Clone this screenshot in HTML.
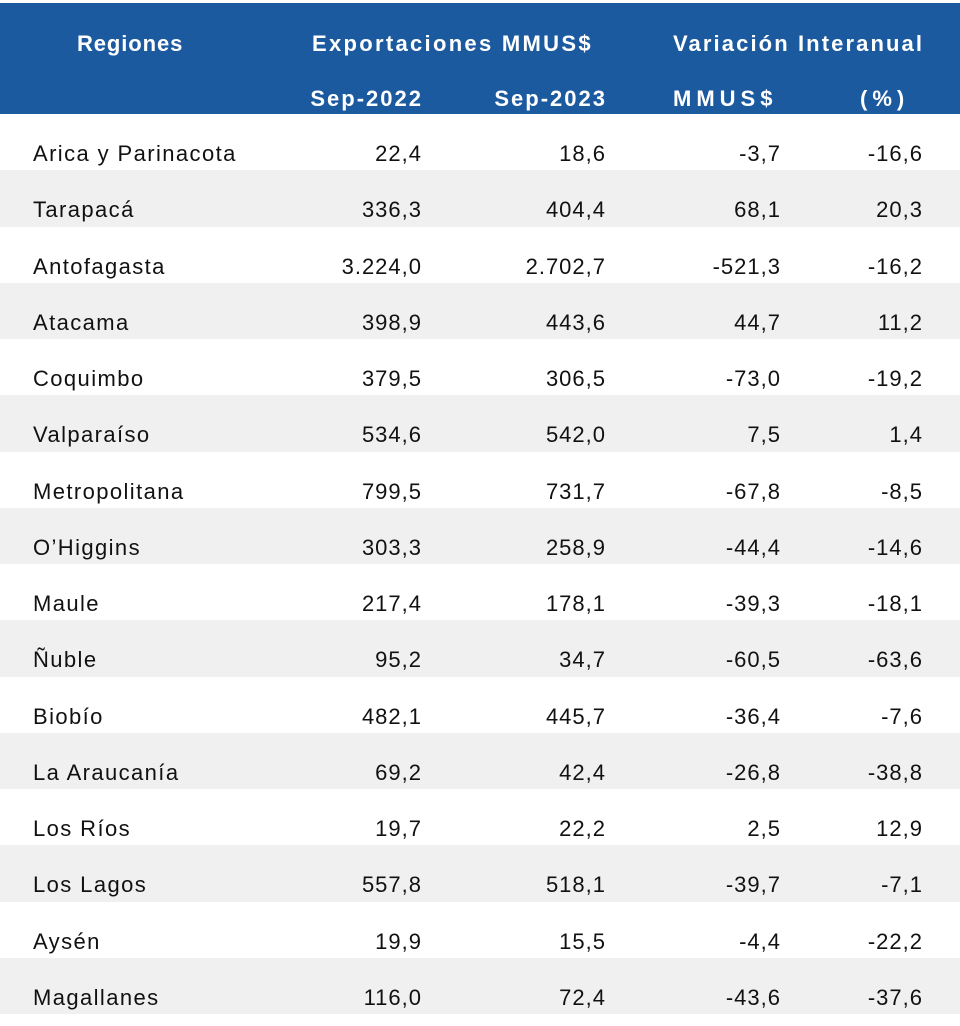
<!DOCTYPE html>
<html><head><meta charset="utf-8"><style>
body{margin:0;width:960px;height:1018px;background:#fff;position:relative;overflow:hidden;font-family:"Liberation Sans",sans-serif;}
#hdr{position:absolute;left:0;top:3px;width:960px;height:111px;background:#1c5aa0;}
.h{position:absolute;color:#fff;font-weight:bold;font-size:22px;white-space:nowrap;}
.row{position:absolute;left:0;width:960px;height:56.25px;}
.c{position:absolute;font-size:22px;color:#111;white-space:nowrap;line-height:56px;top:12px;}
</style></head><body>
<div id="hdr">
<div class="h" style="left:77px;top:28px;letter-spacing:0.9px">Regiones</div>
<div class="h" style="left:312px;top:28px;letter-spacing:2.3px">Exportaciones MMUS$</div>
<div class="h" style="left:673px;top:28px;letter-spacing:2.1px">Variación Interanual</div>
<div class="h" style="right:539px;top:83px;letter-spacing:2px;margin-right:-2px">Sep-2022</div>
<div class="h" style="right:355px;top:83px;letter-spacing:2px;margin-right:-2px">Sep-2023</div>
<div class="h" style="left:673px;top:83px;letter-spacing:5px">MMUS$</div>
<div class="h" style="left:860px;top:83px;letter-spacing:5px">(%)</div>
</div>
<div id="body"></div>
<script>
const regions=["Arica y Parinacota","Tarapacá","Antofagasta","Atacama","Coquimbo","Valparaíso","Metropolitana","O’Higgins","Maule","Ñuble","Biobío","La Araucanía","Los Ríos","Los Lagos","Aysén","Magallanes"];
const sep2022=["22,4","336,3","3.224,0","398,9","379,5","534,6","799,5","303,3","217,4","95,2","482,1","69,2","19,7","557,8","19,9","116,0"];
const sep2023=["18,6","404,4","2.702,7","443,6","306,5","542,0","731,7","258,9","178,1","34,7","445,7","42,4","22,2","518,1","15,5","72,4"];
const varMM=["-3,7","68,1","-521,3","44,7","-73,0","7,5","-67,8","-44,4","-39,3","-60,5","-36,4","-26,8","2,5","-39,7","-4,4","-43,6"];
const varPct=["-16,6","20,3","-16,2","11,2","-19,2","1,4","-8,5","-14,6","-18,1","-63,6","-7,6","-38,8","12,9","-7,1","-22,2","-37,6"];
const body=document.getElementById('body');
regions.forEach((r,i)=>{
  const row=document.createElement('div');
  row.className='row';
  
  
  row.style.top=(114+i*56.25)+'px';
  row.style.background=i%2?'#f0f0f0':'#fff';
  const cells=[[r,'left',33],[sep2022[i],'right',539],[sep2023[i],'right',355],[varMM[i],'right',180],[varPct[i],'right',38]];
  const names=['region-name','sep-2022-value','sep-2023-value','variation-mmus','variation-pct'];
  cells.forEach((c,j)=>{
    const d=document.createElement('div');
    d.className='c';
    
    
    d.style[c[1]]=c[2]+'px';
    if(j==0) d.style.letterSpacing='1.4px';
    else { d.style.letterSpacing='1px'; d.style.marginRight='-1px'; }
    d.textContent=c[0];
    row.appendChild(d);
  });
  body.appendChild(row);
});
</script>
</body></html>
